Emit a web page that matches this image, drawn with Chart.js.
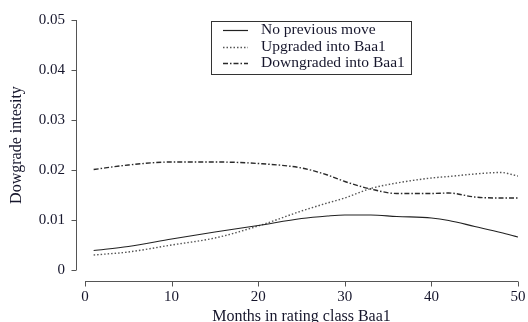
<!DOCTYPE html>
<html><head><meta charset="utf-8">
<script src="https://cdn.jsdelivr.net/npm/chart.js@4.4.1/dist/chart.umd.min.js"></script>
<style>html,body{margin:0;padding:0;background:#fff}#wrap{width:528px;height:322px}</style>
</head><body><div id="wrap"><canvas id="c" width="528" height="322"></canvas></div>
<script>
const months = [1, 5, 10, 15, 20, 25, 28, 30, 33, 36, 40, 42, 45, 48, 50];
const noPrevious = [0.0039, 0.0047, 0.0062, 0.0076, 0.0089, 0.0103, 0.0108, 0.0110, 0.0110, 0.0107, 0.0104, 0.0099, 0.0087, 0.0075, 0.0066];
const upgraded = [0.0030, 0.0036, 0.0050, 0.0064, 0.0088, 0.0118, 0.0134, 0.0144, 0.0163, 0.0174, 0.0184, 0.0187, 0.0192, 0.0195, 0.0188];
const downgraded = [0.0201, 0.0210, 0.0216, 0.0216, 0.0213, 0.0204, 0.0190, 0.0177, 0.0162, 0.0153, 0.0153, 0.0154, 0.0146, 0.0144, 0.0144];
const seriesNames = ['No previous move', 'Upgraded into Baa1', 'Downgraded into Baa1'];
const xTicks = [0, 10, 20, 30, 40, 50];
const yTicks = [0, 0.01, 0.02, 0.03, 0.04, 0.05];

const FONT = '"Liberation Serif", "DejaVu Serif", serif';
const TXT = '#16162c';
const styles = [
  {color: '#222222', dash: [], width: 1.2},
  {color: '#555555', dash: [1.5, 2], width: 1.4},
  {color: '#2a2a2a', dash: [5, 2, 1.5, 2], width: 1.4}
];
const toPts = arr => months.map((m, i) => ({x: m, y: arr[i]}));
const allSeries = [noPrevious, upgraded, downgraded];

const axisPlugin = {
  id: 'rAxes',
  afterDraw(chart) {
    const ctx = chart.ctx, xs = chart.scales.x, ys = chart.scales.y;
    ctx.save();
    ctx.setLineDash([]);
    ctx.strokeStyle = '#555555'; ctx.lineWidth = 1;
    const ax = 76.5, ay = 281.5;
    const y0 = ys.getPixelForValue(yTicks[0]), y1 = ys.getPixelForValue(yTicks[yTicks.length - 1]);
    ctx.beginPath(); ctx.moveTo(ax, y0); ctx.lineTo(ax, y1); ctx.stroke();
    yTicks.forEach(v => { const p = Math.round(ys.getPixelForValue(v)) + 0.5; ctx.beginPath(); ctx.moveTo(ax, p); ctx.lineTo(ax - 5, p); ctx.stroke(); });
    const x0 = xs.getPixelForValue(xTicks[0]), x1 = xs.getPixelForValue(xTicks[xTicks.length - 1]);
    ctx.beginPath(); ctx.moveTo(x0, ay); ctx.lineTo(x1, ay); ctx.stroke();
    xTicks.forEach(v => { const p = Math.round(xs.getPixelForValue(v)) + 0.5; ctx.beginPath(); ctx.moveTo(p, ay); ctx.lineTo(p, ay + 5); ctx.stroke(); });
    // legend
    const bx = 211.5, by = 21.5, bw = 200, bh = 53;
    ctx.strokeStyle = '#333'; ctx.lineWidth = 1;
    ctx.strokeRect(bx, by, bw, bh);
    ctx.font = '15.5px ' + FONT; ctx.fillStyle = TXT; ctx.textBaseline = 'middle'; ctx.textAlign = 'left';
    const rows = [30, 47, 63];
    seriesNames.forEach((n, i) => {
      ctx.save();
      ctx.strokeStyle = styles[i].color; ctx.lineWidth = styles[i].width; ctx.setLineDash(styles[i].dash);
      ctx.beginPath(); ctx.moveTo(223, rows[i] + 0.5); ctx.lineTo(248, rows[i] + 0.5); ctx.stroke();
      ctx.restore();
      ctx.fillText(n, 261, rows[i]);
    });
    ctx.restore();
  }
};

const hiddenGrid = len => ({display: true, drawOnChartArea: false, drawTicks: true, tickLength: len, color: 'rgba(0,0,0,0)'});

new Chart(document.getElementById('c'), {
  type: 'line',
  data: {
    datasets: allSeries.map((s, i) => ({
      label: seriesNames[i], data: toPts(s),
      borderColor: styles[i].color, borderWidth: styles[i].width, borderDash: styles[i].dash,
      pointRadius: 0, fill: false, cubicInterpolationMode: 'monotone'
    }))
  },
  options: {
    responsive: false, animation: false,
    layout: {padding: {top: 20, right: 10, left: 0, bottom: 0}},
    plugins: {legend: {display: false}, tooltip: {enabled: false}},
    scales: {
      x: {
        type: 'linear', min: 0, max: 50,
        afterFit: s => { s.height = 52; },
        afterBuildTicks: s => { s.ticks = xTicks.map(v => ({value: v})); },
        grid: hiddenGrid(18), border: {display: false},
        ticks: {padding: 0, color: TXT, font: {family: FONT, size: 15}, maxRotation: 0, autoSkip: false},
        title: {display: true, text: 'Months in rating class Baa1', color: TXT, font: {family: FONT, size: 16}, padding: {top: 0, bottom: -4}}
      },
      y: {
        min: 0, max: 0.05,
        afterFit: s => { s.width = 85; },
        afterBuildTicks: s => { s.ticks = yTicks.map(v => ({value: v})); },
        grid: hiddenGrid(20), border: {display: false},
        ticks: {padding: 0, color: TXT, font: {family: FONT, size: 15}, callback: v => v === 0 ? '0' : v.toFixed(2)},
        title: {display: true, text: 'Dowgrade intesity', color: TXT, font: {family: FONT, size: 16}, padding: {top: 7, bottom: 0}}
      }
    }
  },
  plugins: [axisPlugin]
});
</script></body></html>
